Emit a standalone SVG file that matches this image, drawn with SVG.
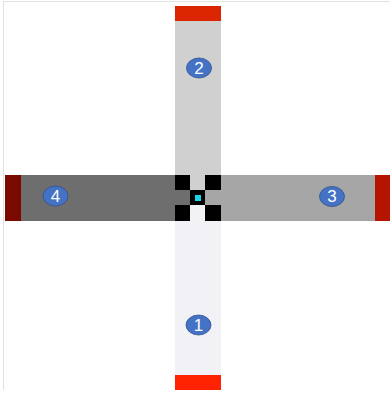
<svg xmlns="http://www.w3.org/2000/svg" width="391" height="394" viewBox="0 0 391 394">
<style>
.badge{fill:#4472c4;stroke:#2f528f;stroke-width:0.8}
.num{fill:#ffffff;font-family:"Liberation Sans",Arial,sans-serif;font-size:17px;text-anchor:middle;dominant-baseline:central}
.blk{fill:#000000}
</style>
<rect width="391" height="394" fill="#ffffff"/>
<g id="frame">
<line x1="3" y1="1.5" x2="390" y2="1.5" stroke="#e2e2e2" stroke-width="1"/>
<line x1="3.5" y1="1" x2="3.5" y2="390" stroke="#e2e2e2" stroke-width="1"/>
</g>
<g id="arm2">
<rect x="175" y="21" width="46" height="169" fill="#d0d0d0"/>
<rect x="175" y="6" width="46" height="15" fill="#db2500"/>
</g>
<g id="arm1">
<rect x="175" y="205" width="46" height="170" fill="#f2f2f6"/>
<rect x="175" y="375" width="46" height="15" fill="#ff2200"/>
</g>
<g id="arm4">
<rect x="21" y="175" width="169" height="46" fill="#6e6e6e"/>
<rect x="5" y="175" width="16" height="46" fill="#7a0a00"/>
</g>
<g id="arm3">
<rect x="205" y="175" width="170" height="46" fill="#a6a6a6"/>
<rect x="375" y="175" width="15" height="46" fill="#b51500"/>
</g>
<g id="hub">
<rect x="190" y="175" width="15" height="15" fill="#d0d0d0"/>
<rect x="175" y="190" width="15" height="15" fill="#6e6e6e"/>
<rect x="205" y="190" width="16" height="15" fill="#a6a6a6"/>
<rect x="190" y="205" width="15" height="16" fill="#f2f2f6"/>
<rect class="blk" x="175" y="175" width="15" height="15"/>
<rect class="blk" x="205" y="175" width="16" height="15"/>
<rect class="blk" x="190" y="190" width="15" height="15"/>
<rect class="blk" x="175" y="205" width="15" height="16"/>
<rect class="blk" x="205" y="205" width="16" height="16"/>
<rect x="195" y="195" width="6" height="6" fill="#19d4e6"/>
</g>
<g id="badge1">
<ellipse class="badge" cx="198.5" cy="325" rx="12.5" ry="10"/>
<text class="num" x="198.5" y="325">1</text>
</g>
<g id="badge2">
<ellipse class="badge" cx="199" cy="68" rx="12.5" ry="10"/>
<text class="num" x="199" y="68">2</text>
</g>
<g id="badge3">
<ellipse class="badge" cx="332" cy="196.5" rx="12.5" ry="10"/>
<text class="num" x="332" y="196.5">3</text>
</g>
<g id="badge4">
<ellipse class="badge" cx="55.5" cy="196" rx="12.5" ry="10"/>
<text class="num" x="55.5" y="196">4</text>
</g>
<g id="connectors"></g>
</svg>
